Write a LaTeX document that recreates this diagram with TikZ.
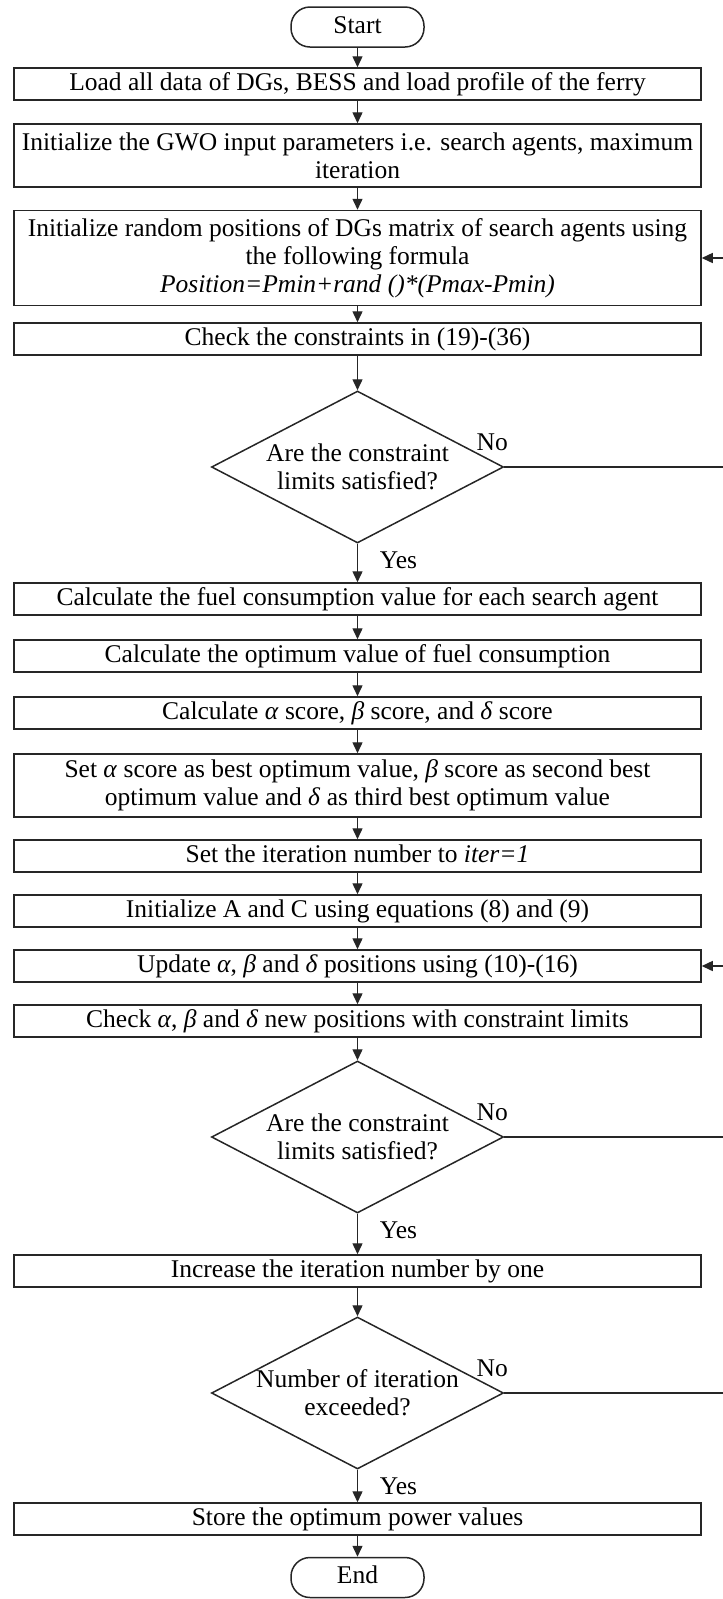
\documentclass[tikz,border=0pt]{standalone}
\usepackage{fontspec}
\setmainfont{Liberation Serif}
\usetikzlibrary{arrows.meta,shapes.geometric,calc}
\begin{document}
\begin{tikzpicture}[x=1pt,y=-1pt,
  font=\fontsize{25.5}{28}\selectfont,
  every node/.style={text=black},
  proc/.style={draw=black!85, line width=1.5pt, rectangle, minimum width=687pt,
    inner xsep=3pt, inner ysep=0pt, align=center},
  one/.style={minimum height=32pt, text height=17.5pt, text depth=5.5pt},
  term/.style={draw=black!85, line width=1.5pt, rectangle, rounded corners=19pt,
    minimum width=133pt, minimum height=40pt, inner sep=0pt, text height=17.5pt, text depth=5.5pt},
  decision/.style={draw=black!85, line width=1.5pt, diamond, aspect=1.92,
    minimum width=292pt, minimum height=152pt, inner sep=0pt},
  dtext/.style={align=center, inner sep=0pt},
  lbl/.style={inner sep=0pt},
  ln/.style={draw=black!85, line width=1.4pt},
  arr/.style={draw=black!85, line width=1.4pt, -{Triangle[length=11pt,width=10pt]}}
]
\useasboundingbox (0,0) rectangle (723,1599);

\node[term] (start) at (357.5,27) {Start};
\node[proc,one] (b1) at (357.5,84) {Load all data of DGs, BESS and load profile of the ferry};
\node[proc,minimum height=63pt] (b2) at (357.5,155.5) {Initialize the GWO input parameters i.e. search agents, maximum\\iteration};
\node[proc,minimum height=95pt] (b3) at (357.5,258) {Initialize random positions of DGs matrix of search agents using\\the following formula\\\textit{Position=Pmin+rand ()*(Pmax-Pmin)}};
\node[proc,one] (b4) at (357.5,339) {Check the constraints in (19)-(36)};
\node[decision] (d1) at (357.5,467) {};
\node[dtext] (d1t) at (d1) {Are the constraint\\limits satisfied?};
\node[proc,one] (b5) at (357.5,599) {Calculate the fuel consumption value for each search agent};
\node[proc,one] (b6) at (357.5,656) {Calculate the optimum value of fuel consumption};
\node[proc,one] (b7) at (357.5,713) {Calculate \textit{α} score, \textit{β} score, and \textit{δ} score};
\node[proc,minimum height=63pt] (b8) at (357.5,785.5) {Set \textit{α} score as best optimum value, \textit{β} score as second best\\optimum value and \textit{δ} as third best optimum value};
\node[proc,one] (b9) at (357.5,856) {Set the iteration number to \textit{iter=1}};
\node[proc,one] (b10) at (357.5,911) {Initialize A and C using equations (8) and (9)};
\node[proc,one] (b11) at (357.5,966) {Update \textit{α}, \textit{β} and \textit{δ} positions using (10)-(16)};
\node[proc,one] (b12) at (357.5,1021) {Check \textit{α}, \textit{β} and \textit{δ} new positions with constraint limits};
\node[decision] (d2) at (357.5,1137) {};
\node[dtext] (d2t) at (d2) {Are the constraint\\limits satisfied?};
\node[proc,one] (b13) at (357.5,1271) {Increase the iteration number by one};
\node[decision] (d3) at (357.5,1393) {};
\node[dtext] (d3t) at (d3) {Number of iteration\\exceeded?};
\node[proc,one] (b14) at (357.5,1519) {Store the optimum power values};
\node[term] (end) at (357.5,1577.5) {End};

% labels
\node[lbl] (n1) at ($(d1.east)+(-12,-25)$) {No};
\node[lbl] (n2) at ($(d2.east)+(-12,-25)$) {No};
\node[lbl] (n3) at ($(d3.east)+(-12,-25)$) {No};
\node[lbl] (y1) at ($(d1.south)+(41,17)$) {Yes};
\node[lbl] (y2) at ($(d2.south)+(41,17)$) {Yes};
\node[lbl] (y3) at ($(d3.south)+(41,17)$) {Yes};

% main flow
\draw[arr] (start) -- (b1);
\draw[arr] (b1) -- (b2);
\draw[arr] (b2) -- (b3);
\draw[arr] (b3) -- (b4);
\draw[arr] (b4) -- (d1);
\draw[arr] (d1) -- (b5);
\draw[arr] (b5) -- (b6);
\draw[arr] (b6) -- (b7);
\draw[arr] (b7) -- (b8);
\draw[arr] (b8) -- (b9);
\draw[arr] (b9) -- (b10);
\draw[arr] (b10) -- (b11);
\draw[arr] (b11) -- (b12);
\draw[arr] (b12) -- (d2);
\draw[arr] (d2) -- (b13);
\draw[arr] (b13) -- (d3);
\draw[arr] (d3) -- (b14);
\draw[arr] (b14) -- (end);

% loop-backs (to the right edge)
\coordinate (e0) at (723,258);
\coordinate (e1) at (723,467);
\coordinate (e2) at (723,966);
\coordinate (e3) at (723,1137);
\coordinate (e4) at (723,1393);
\draw[ln] (d1.east) -- (e1);
\draw[arr] (e0) -- (b3.east);
\draw[ln] (d2.east) -- (e3);
\draw[ln] (d3.east) -- (e4);
\draw[arr] (e2) -- (b11.east);
\end{tikzpicture}
\end{document}
